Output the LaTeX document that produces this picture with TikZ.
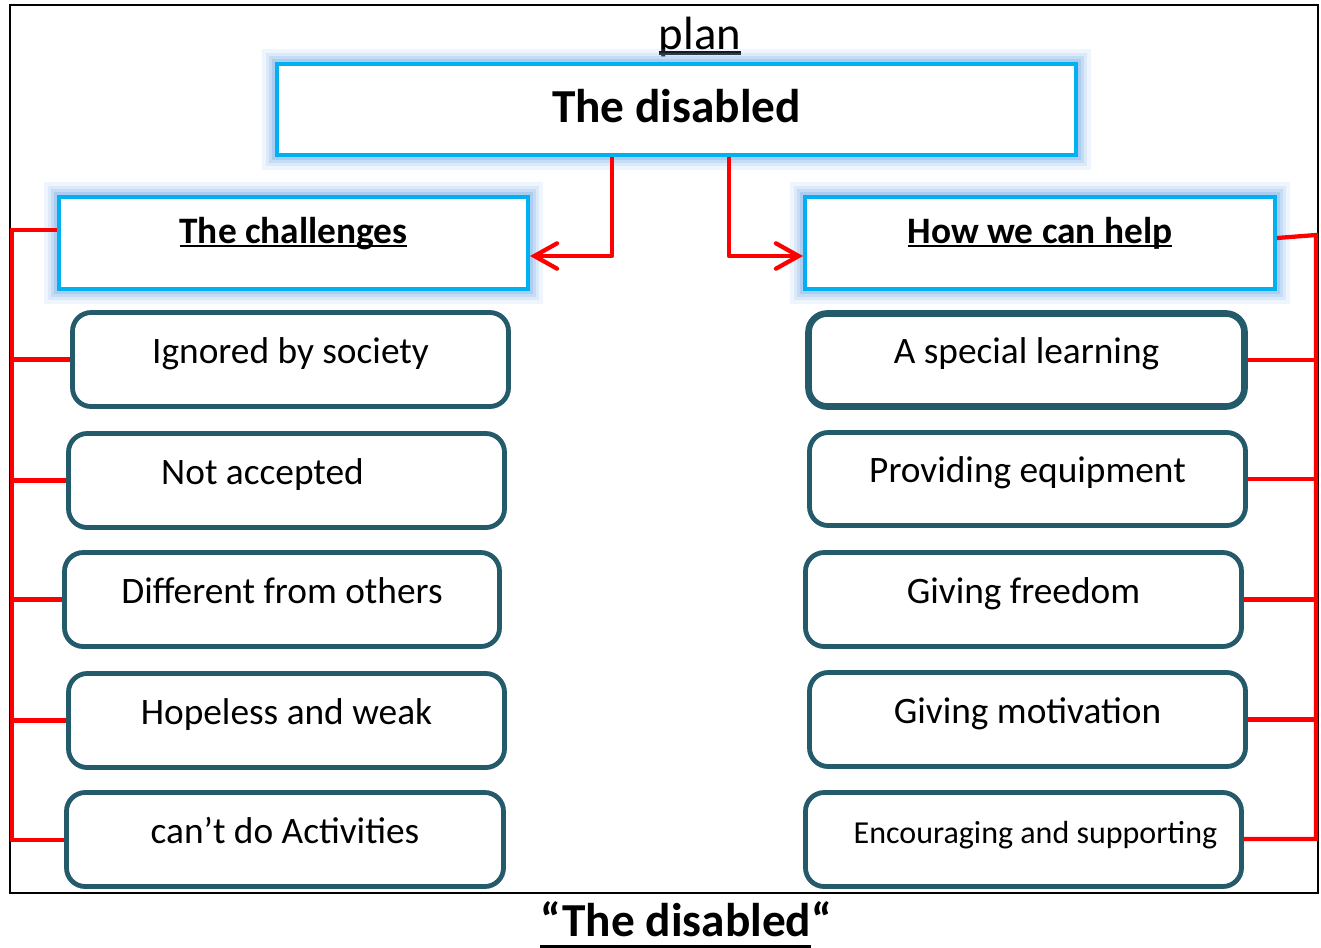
\documentclass[tikz,border=0pt]{standalone}
\usepackage{fontspec}
\setmainfont{Carlito}
\usetikzlibrary{calc,arrows.meta}
\definecolor{cyb}{HTML}{00B0F0}
\definecolor{glowc}{HTML}{8FBBEC}
\definecolor{tealc}{HTML}{245B6B}
\definecolor{redc}{HTML}{FF0000}
\newdimen\px \px=0.75pt
\newcommand{\ulx}[1]{\setbox0\hbox{#1}\rlap{\rule[-0.12em]{\wd0}{0.075em}}\box0}
\newcommand{\ulb}[1]{\setbox0\hbox{#1}\rlap{\rule[-0.27em]{\wd0}{0.085em}}\box0}
\tikzset{
  glowbox/.style={draw=cyb, line width=3pt, fill=white, inner sep=0pt,
    preaction={draw=glowc, line width=22pt, draw opacity=0.15, rounded corners=6pt},
    preaction={draw=glowc, line width=17pt, draw opacity=0.2, rounded corners=4pt},
    preaction={draw=glowc, line width=12pt, draw opacity=0.3},
    preaction={draw=glowc, line width=8pt, draw opacity=0.45}},
  itembox/.style={draw=tealc, line width=3.6pt, fill=white, rounded corners=14pt,
    inner sep=0pt, text height=7\px, text depth=0pt,
    font=\fontsize{28}{30}\selectfont},
  headtxt/.style={font=\fontsize{28}{30}\selectfont\bfseries, text height=0pt, text depth=0pt},
  redline/.style={draw=redc, line width=3.2pt},
  redarrow/.style={draw=redc, line width=3.2pt, line join=round,
    -{Straight Barb[length=17pt,width=19pt,line cap=round]}},
}
\begin{document}
\begin{tikzpicture}[x=0.75pt,y=-0.75pt]
\useasboundingbox (0,0) rectangle (1321,947);
% frame
\draw[line width=1.5pt] (10,5) rectangle (1318,893);
% title
\node[anchor=base, font=\fontsize{35}{40}\selectfont] (plan) at (700,49) {\ulx{plan}};
\node[glowbox, minimum width=799\px, minimum height=91\px, font=\fontsize{35.5}{40}\selectfont\bfseries, text height=25\px, text depth=0pt] (top) at (676.5,109.5) {The disabled};
\node[glowbox, minimum width=469\px, minimum height=92\px, headtxt] (chal) at (293.5,243) {\ulx{The challenges}};
\node[glowbox, minimum width=470\px, minimum height=92\px, headtxt] (help) at (1040,243) {\ulx{How we can help}};
% left items
\node[itembox, minimum width=436\px, minimum height=94\px] (l1) at (290.5,359.5) {Ignored by society};
\node[itembox, minimum width=436\px, minimum height=94\px] (l2) at (286.5,480.5) {Not accepted\hspace*{48\px}};
\node[itembox, minimum width=435\px, minimum height=94\px] (l3) at (282,599.5) {Different from others};
\node[itembox, minimum width=436\px, minimum height=94\px] (l4) at (286.5,720.5) {Hopeless and weak};
\node[itembox, minimum width=437\px, minimum height=94\px] (l5) at (285,839.5) {can’t do Activities};
% right items
\node[itembox, line width=5pt, minimum width=436\px, minimum height=93\px] (r1) at (1026.5,360) {A special learning};
\node[itembox, minimum width=436\px, minimum height=93\px] (r2) at (1027.5,479) {Providing equipment};
\node[itembox, minimum width=436\px, minimum height=94\px] (r3) at (1023.5,599.5) {Giving freedom};
\node[itembox, minimum width=436\px, minimum height=94\px] (r4) at (1027.5,719.5) {Giving motivation};
\node[itembox, minimum width=436\px, minimum height=94\px, font=\fontsize{24}{28}\selectfont] (r5) at (1023.5,839.5) {\hspace*{24\px}Encouraging and supporting};
% bottom title
\node[anchor=base, font=\fontsize{35.5}{40}\selectfont\bfseries] (btitle) at (686,936) {\ulb{“The disabled}“};
% arrows from top
\draw[redarrow] ($(top.south)+(-64.5,0)$) |- ($(chal.east)+(0,13)$);
\draw[redarrow] ($(top.south)+(52.5,0)$) |- ($(help.west)+(0,13)$);
% left bracket
\coordinate (lt) at (12,230);
\coordinate (lb) at (12,840);
\draw[redline] ($(chal.west)+(0,-13)$) -- (lt) -- (lb) -- (l5.west |- lb);
\foreach \n in {l1,l2,l3,l4}{\draw[redline] (\n.west) -- (\n.west -| lt);}
% right bracket
\coordinate (rt) at (1316,235);
\coordinate (rb) at (1316,839);
\draw[redline] ($(help.east)+(0,-5)$) -- (rt) -- (rb) -- (r5.east |- rb);
\foreach \n in {r1,r2,r3,r4}{\draw[redline] (\n.east) -- (\n.east -| rt);}
\end{tikzpicture}
\end{document}
